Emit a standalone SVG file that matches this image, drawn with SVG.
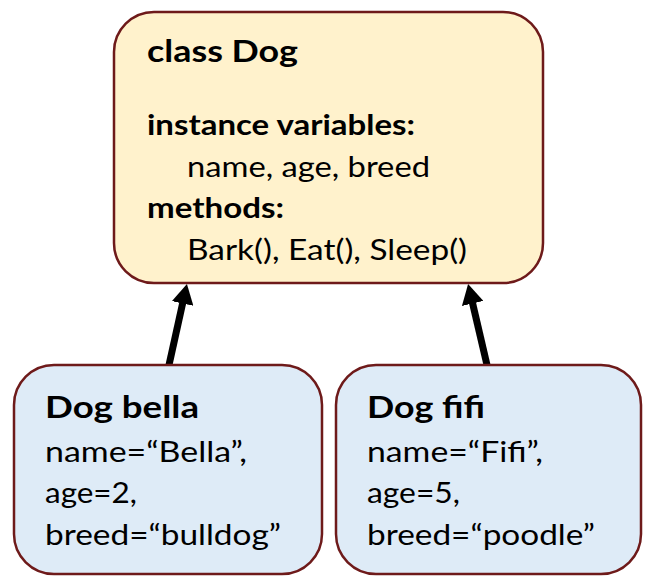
<svg xmlns="http://www.w3.org/2000/svg" width="649" height="581" viewBox="0 0 649 581">
<style>
.box{stroke:#6e1a1a;stroke-width:2.5}
.cls{fill:#fff2cc}
.obj{fill:#deebf7}
text{font-family:Lato,"Open Sans",sans-serif;fill:#000;font-size:29px}
.b{font-weight:bold}
.h{font-size:31px}
.conn{stroke:#000;stroke-width:7;fill:none;marker-end:url(#ah)}
</style>
<defs>
<marker id="ah" viewBox="0 -11 20 22" refX="5" refY="0" markerWidth="20" markerHeight="22" markerUnits="userSpaceOnUse" orient="auto">
<path d="M0,-11 L20,0 L0,11 z" fill="#000"/>
</marker>
</defs>
<rect width="649" height="581" fill="#fff"/>
<g id="connectors">
<line class="conn" x1="169" y1="365" x2="183.7" y2="298.6"/>
<line class="conn" x1="487" y1="365" x2="471.5" y2="298.6"/>
</g>
<g id="class-dog">
<rect class="box cls" x="114" y="12" width="429" height="271" rx="40"/>
<text class="b h" x="147" y="62" textLength="151" lengthAdjust="spacingAndGlyphs">class Dog</text>
<text class="b" x="147" y="135" textLength="268" lengthAdjust="spacingAndGlyphs">instance variables:</text>
<text x="187" y="177" textLength="243" lengthAdjust="spacingAndGlyphs">name, age, breed</text>
<text class="b" x="147" y="218" textLength="137" lengthAdjust="spacingAndGlyphs">methods:</text>
<text x="187" y="260" textLength="280" lengthAdjust="spacingAndGlyphs">Bark(), Eat(), Sleep()</text>
</g>
<g id="dog-bella">
<rect class="box obj" x="14" y="365" width="308" height="209" rx="40"/>
<text class="b h" x="45" y="418" textLength="154" lengthAdjust="spacingAndGlyphs">Dog bella</text>
<text x="45" y="462" textLength="202" lengthAdjust="spacingAndGlyphs">name=“Bella”,</text>
<text x="45" y="503" textLength="92" lengthAdjust="spacingAndGlyphs">age=2,</text>
<text x="45" y="545" textLength="236" lengthAdjust="spacingAndGlyphs">breed=“bulldog”</text>
</g>
<g id="dog-fifi">
<rect class="box obj" x="336" y="365" width="305" height="209" rx="40"/>
<text class="b h" x="367" y="418" textLength="118" lengthAdjust="spacingAndGlyphs">Dog fifi</text>
<text x="367" y="462" textLength="176" lengthAdjust="spacingAndGlyphs">name=“Fifi”,</text>
<text x="367" y="503" textLength="93" lengthAdjust="spacingAndGlyphs">age=5,</text>
<text x="367" y="545" textLength="228" lengthAdjust="spacingAndGlyphs">breed=“poodle”</text>
</g>
</svg>
